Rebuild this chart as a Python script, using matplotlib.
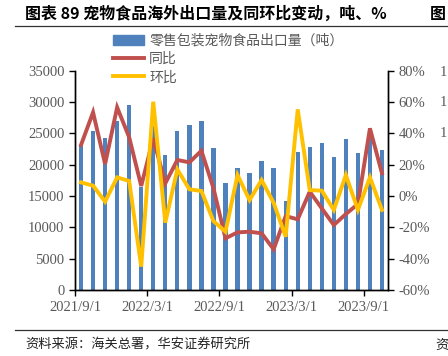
import pandas as pd
import matplotlib
matplotlib.use('Agg')
from matplotlib import pyplot as plt
from matplotlib.lines import Line2D

plt.rcParams['font.family'] = ['Noto Sans CJK SC', 'DejaVu Sans']

# 2021/9 .. 2023/10, monthly
months = list(pd.date_range('2021-09-01', periods=26, freq='MS'))
volume = [23000, 25300, 24250, 27000, 29500, 16400, 26100, 21600, 25300, 26300,
          27000, 22600, 17100, 19400, 18700, 20600, 19400, 14200, 22000, 22800,
          23500, 21300, 24100, 21900, 25000, 22300]
yoy = [32.6, 53.4, 20.4, 56.6, 37.5, 6.4, 36.8, 8.1, 23.0, 21.5, 28.9, 5.0,
       -27.0, -23.2, -22.8, -23.8, -34.0, -12.8, -14.9, 2.8, -7.9, -18.5,
       -11.5, -5.1, 43.2, 14.5]
mom = [8.7, 6.6, -3.6, 11.9, 9.6, -45.1, 60.2, -17.0, 17.0, 4.3, 3.2, -16.0,
       -22.8, 13.4, -2.6, 10.2, -4.3, -26.0, 55.3, 3.8, 3.4, -8.9, 13.4, -8.9,
       11.9, -8.9]
tick_labels = ['2021/9/1', '2022/3/1', '2022/9/1', '2023/3/1', '2023/9/1']
legend_labels = ['零售包装宠物食品出口量（吨）', '同比', '环比']

blue = '#4F81BD'
red = '#C0504D'
yellow = '#FFC000'
grey = '#595959'
serif = 'Liberation Serif'

W, H = 448, 356
fig = plt.figure(figsize=(W / 100, H / 100), dpi=100)
ax = fig.add_axes([75 / W, 1 - 290 / H, (388 - 75) / W, (290 - 70.7) / H])
ax2 = ax.twinx()

x = [i + 0.5 for i in range(len(months))]
ax.bar(x, volume, width=0.36, color=blue, zorder=2)
ax2.plot(x, yoy, color=red, lw=2.8, solid_joinstyle='miter')
ax2.plot(x, mom, color=yellow, lw=2.8, solid_joinstyle='miter')

ax.set_xlim(0, len(months))
ax.set_ylim(0, 35000)
ax2.set_ylim(-60, 80)
ax.set_yticks(range(0, 35001, 5000))
ax2.set_yticks(range(-60, 81, 20))
ax2.set_yticklabels([f'{v}%' for v in range(-60, 81, 20)])
ax.set_xticks([0, 6, 12, 18, 24])
ax.set_xticklabels(tick_labels)

for a in (ax, ax2):
    a.spines['top'].set_visible(False)
    for s in a.spines.values():
        s.set_linewidth(1.0)
        s.set_color('black')
    a.tick_params(labelsize=10.5, colors=grey, length=4, width=1.0)
    for lab in a.get_xticklabels() + a.get_yticklabels():
        lab.set_fontfamily(serif)
ax.tick_params(axis='both', color='black')
ax2.tick_params(axis='y', color='black')
ax.tick_params(axis='x', pad=4)

handles = [plt.Rectangle((0, 0), 1, 1, color=blue),
           Line2D([], [], color=red, lw=2.8),
           Line2D([], [], color=yellow, lw=2.8)]
leg = ax2.legend(handles, legend_labels, loc='upper left',
                 bbox_to_anchor=(113 / W, 1 - 34 / H),
                 bbox_transform=fig.transFigure, frameon=False,
                 fontsize=10, borderpad=0, borderaxespad=0,
                 handlelength=2.2, handletextpad=0.4, labelspacing=0.3)
for t in leg.get_texts():
    t.set_color(grey)

# title / source decoration
fig.text(25 / W, 1 - 14 / H, '图表 89 宠物食品海外出口量及同环比变动，吨、%',
         fontsize=11.5, fontweight='bold', va='center', ha='left')
fig.text(430 / W, 1 - 14 / H, '图', fontsize=11.5, fontweight='bold',
         va='center', ha='left')
fig.add_artist(Line2D([15 / W, 1], [1 - 26 / H, 1 - 26 / H], color='#333333', lw=0.9))
fig.add_artist(Line2D([15 / W, 1], [1 - 330 / H, 1 - 330 / H], color='#333333', lw=0.9))
fig.text(25 / W, 1 - 345 / H, '资料来源：海关总署，华安证券研究所', fontsize=9.5,
         va='center', ha='left', color='#222222')
fig.text(435 / W, 1 - 345 / H, '资', fontsize=9.5, va='center', ha='left',
         color='#222222')
for yy in (72, 103, 134):
    fig.text(440 / W, 1 - yy / H, '1', fontsize=10.5, family=serif,
             color=grey, va='center', ha='left')

fig.savefig('out.png', dpi=100)
